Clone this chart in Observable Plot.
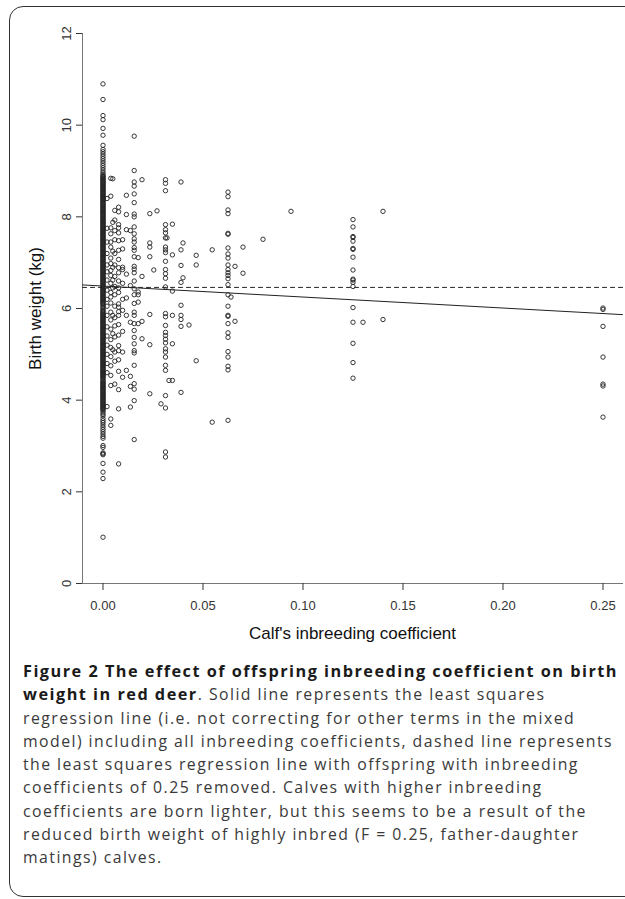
<!DOCTYPE html>
<html><head><meta charset="utf-8">
<script src="https://cdn.jsdelivr.net/npm/d3@7"></script>
<script src="https://cdn.jsdelivr.net/npm/@observablehq/plot@0.6"></script>
<style>
html,body{margin:0;padding:0;background:#fff;overflow:hidden;width:625px;height:899px;}
#frame{position:absolute;left:9px;top:6px;width:720px;height:891px;border:1.6px solid #333;border-radius:14px;box-sizing:border-box;pointer-events:none;}
#chart{position:absolute;left:0;top:0;}
#caption{position:absolute;left:23px;top:660px;font-family:"Open Sans",sans-serif;color:#3a3a3a;line-height:23.3px;font-size:15.8px;}
#caption div{white-space:nowrap;height:23.3px;}
#caption b{color:#1a1a1a;font-weight:700;font-size:16.3px;}
</style></head>
<body>
<div id="chart"></div>
<div id="caption">
<div><span id="line1"><b>Figure 2 The effect of offspring inbreeding coefficient on birth</b></span></div>
<div><span><b>weight in red deer</b>. Solid line represents the least squares</span></div>
<div><span>regression line (i.e. not correcting for other terms in the mixed</span></div>
<div><span id="line4">model) including all inbreeding coefficients, dashed line represents</span></div>
<div><span>the least squares regression line with offspring with inbreeding</span></div>
<div><span>coefficients of 0.25 removed. Calves with higher inbreeding</span></div>
<div><span>coefficients are born lighter, but this seems to be a result of the</span></div>
<div><span>reduced birth weight of highly inbred (F = 0.25, father-daughter</span></div>
<div><span>matings) calves.</span></div>
</div>
<div id="frame"></div>
<script>
// ---- axis settings / labels ----
const xTicks = [0, 0.05, 0.10, 0.15, 0.20, 0.25];
const yTicks = [0, 2, 4, 6, 8, 10, 12];
const xLabel = "Calf's inbreeding coefficient";
const yLabel = "Birth weight (kg)";

// ---- regression lines: [intercept, slope] ----
const fitAll = [6.49, -2.4];      // solid: all inbreeding coefficients
const fitNo025 = [6.46, 0.0];     // dashed: F = 0.25 removed

// ---- inbreeding coefficient levels and birth weights (kg) ----
const levels = [0, 0.002, 0.0039, 0.0049, 0.0059, 0.0078, 0.0098, 0.0117, 0.0137, 0.0156,
  0.0176, 0.0195, 0.0234, 0.0254, 0.027, 0.029, 0.03125, 0.032, 0.033, 0.0347,
  0.039, 0.040, 0.043, 0.0466, 0.0546, 0.0625, 0.064, 0.066, 0.070, 0.080,
  0.094, 0.125, 0.130, 0.140, 0.25];

// F = 0: upper outliers, the solid black band (many calves), lower outliers
const w0000 = [10.90, 10.56, 10.21, 10.12, 9.93, 9.78, 9.56, 9.47, 9.42, 9.37, 9.32, 9.27, 9.22, 9.17, 9.12, 9.07, 9.02, 8.97, 8.93,
  8.90, 8.88, 8.86, 8.84, 8.82, 8.80, 8.78, 8.76, 8.74, 8.72, 8.70, 8.68, 8.66, 8.64, 8.62, 8.60, 8.58, 8.56, 8.54, 8.52, 8.50, 8.48, 8.46, 8.44, 8.42,
  8.40, 8.38, 8.36, 8.34, 8.32, 8.30, 8.28, 8.26, 8.24, 8.22, 8.20, 8.18, 8.16, 8.14, 8.12, 8.10, 8.08, 8.06, 8.04, 8.02, 8.00, 7.98, 7.96, 7.94, 7.92,
  7.90, 7.88, 7.86, 7.84, 7.82, 7.80, 7.78, 7.76, 7.74, 7.72, 7.70, 7.68, 7.66, 7.64, 7.62, 7.60, 7.58, 7.56, 7.54, 7.52, 7.50, 7.48, 7.46, 7.44, 7.42,
  7.40, 7.38, 7.36, 7.34, 7.32, 7.30, 7.28, 7.26, 7.24, 7.22, 7.20, 7.18, 7.16, 7.14, 7.12, 7.10, 7.08, 7.06, 7.04, 7.02, 7.00, 6.98, 6.96, 6.94, 6.92,
  6.90, 6.88, 6.86, 6.84, 6.82, 6.80, 6.78, 6.76, 6.74, 6.72, 6.70, 6.68, 6.66, 6.64, 6.62, 6.60, 6.58, 6.56, 6.54, 6.52, 6.50, 6.48, 6.46, 6.44, 6.42,
  6.40, 6.38, 6.36, 6.34, 6.32, 6.30, 6.28, 6.26, 6.24, 6.22, 6.20, 6.18, 6.16, 6.14, 6.12, 6.10, 6.08, 6.05, 6.02, 5.99, 5.96, 5.94, 5.92,
  5.90, 5.88, 5.86, 5.84, 5.82, 5.80, 5.78, 5.76, 5.74, 5.72, 5.70, 5.68, 5.66, 5.64, 5.62, 5.60, 5.58, 5.56, 5.54, 5.52, 5.50, 5.48, 5.46, 5.44, 5.42,
  5.40, 5.38, 5.36, 5.34, 5.32, 5.30, 5.28, 5.26, 5.24, 5.22, 5.20, 5.18, 5.16, 5.14, 5.12, 5.10, 5.08, 5.06, 5.04, 5.02, 5.00, 4.98, 4.96, 4.94, 4.92,
  4.90, 4.88, 4.86, 4.84, 4.82, 4.80, 4.78, 4.76, 4.74, 4.72, 4.70, 4.68, 4.66, 4.64, 4.62, 4.60, 4.58, 4.56, 4.54, 4.52, 4.50, 4.48, 4.45, 4.42,
  4.40, 4.38, 4.36, 4.34, 4.32, 4.30, 4.28, 4.26, 4.24, 4.22, 4.20, 4.18, 4.16, 4.14, 4.12, 4.10, 4.08, 4.06, 4.04, 4.02, 4.00, 3.98, 3.96, 3.94, 3.92,
  3.90, 3.88, 3.86, 3.84, 3.82, 3.80, 3.78, 3.74, 3.70, 3.66, 3.60, 3.55, 3.51, 3.46, 3.41, 3.36, 3.31, 3.26, 3.21, 3.17,
  3.01, 2.97, 2.85, 2.83, 2.81, 2.62, 2.43, 2.29, 1.01];
const w0020 = [8.40, 7.75, 7.45, 7.20, 6.95, 6.80, 6.62, 6.40, 6.20, 6.05, 5.85, 5.60, 5.40, 5.20, 5.00, 4.80, 4.60, 3.86];
const w0039 = [8.84, 8.45, 7.76, 7.63, 7.45, 7.34, 7.10, 6.98, 6.83, 6.72, 6.55, 6.35, 6.25, 6.12, 5.92, 5.75, 5.55, 5.32,
  5.15, 4.95, 4.75, 4.54, 4.32, 3.59, 3.45];
const w0049 = [8.83, 7.88, 7.25, 6.90, 6.62, 6.45, 5.85, 5.45, 5.10];
const w0059 = [8.14, 7.93, 7.70, 7.50, 7.20, 6.95, 6.70, 6.48, 6.30, 6.05, 5.80, 5.62, 5.38, 5.05, 4.85, 4.35];
const w0078 = [8.21, 8.11, 7.83, 7.76, 7.65, 7.48, 7.27, 7.07, 6.89, 6.78, 6.60, 6.45, 6.35, 6.10, 6.03, 5.93, 5.85, 5.65,
  5.42, 5.19, 5.08, 4.88, 4.63, 4.23, 3.81, 2.61];
const w0098 = [7.50, 7.30, 6.90, 6.85, 6.55, 6.20, 5.96, 5.50, 5.05, 4.50];
const w0117 = [8.47, 8.05, 7.72, 6.75, 6.23, 5.85, 4.65];
const w0137 = [7.70, 6.50, 5.70, 4.52, 4.30, 3.85];
const w0156 = [9.76, 9.01, 8.76, 8.67, 8.50, 8.31, 8.06, 8.00, 7.78, 7.63, 7.52, 7.45, 7.33, 7.27, 7.13, 6.92, 6.86, 6.78,
  6.60, 6.43, 6.30, 6.11, 5.92, 5.85, 5.67, 5.52, 5.37, 5.23, 5.08, 5.03, 4.76, 4.36, 4.24, 3.99, 3.14];
const w0176 = [7.11, 6.36, 6.30, 6.14, 5.67];
const w0195 = [8.81, 6.70, 5.72, 5.34];
const w0234 = [8.07, 7.43, 7.34, 7.13, 5.87, 5.21, 4.14];
const w0254 = [6.84];
const w0270 = [8.13];
const w0290 = [3.92];
const w0313 = [8.81, 8.73, 8.57, 7.83, 7.72, 7.65, 7.54, 7.34, 7.28, 7.22, 7.03, 6.85, 6.76, 6.66, 6.47, 5.89, 5.82, 5.63,
  5.48, 5.41, 5.33, 5.25, 5.12, 5.05, 4.94, 4.76, 4.65, 4.10, 3.83, 2.87, 2.76];
const w0320 = [7.54];
const w0330 = [4.43];
const w0347 = [7.84, 7.17, 6.38, 5.85, 5.23, 4.43];
const w0390 = [8.76, 7.28, 6.94, 6.57, 6.07, 5.85, 5.76, 5.61, 4.17];
const w0400 = [7.43, 6.67];
const w0430 = [5.64];
const w0466 = [7.16, 6.95, 4.86];
const w0546 = [7.28, 3.52];
const w0625 = [8.54, 8.44, 8.15, 8.07, 7.64, 7.62, 7.32, 7.19, 7.10, 6.95, 6.85, 6.78, 6.72, 6.65, 6.52, 6.30, 6.05, 5.85,
  5.83, 5.67, 5.47, 5.37, 5.06, 4.94, 4.74, 4.66, 3.56];
const w0640 = [6.25];
const w0660 = [6.92, 5.72];
const w0700 = [7.34, 6.77];
const w0800 = [7.51];
const w0940 = [8.12];
const w1250 = [7.94, 7.78, 7.57, 7.55, 7.47, 7.31, 7.29, 7.12, 6.84, 6.64, 6.62, 6.57, 6.48, 6.02, 5.70, 5.24, 4.82, 4.48];
const w1300 = [5.70];
const w1400 = [8.12, 5.76];
const w2500 = [6.01, 5.98, 5.61, 4.94, 4.35, 4.31, 3.63];

const weights = [w0000, w0020, w0039, w0049, w0059, w0078, w0098, w0117, w0137, w0156,
  w0176, w0195, w0234, w0254, w0270, w0290, w0313, w0320, w0330, w0347,
  w0390, w0400, w0430, w0466, w0546, w0625, w0640, w0660, w0700, w0800,
  w0940, w1250, w1300, w1400, w2500];

const points = levels.flatMap((f, i) => weights[i].map(w => ({f, w})));

const xDomain = [-0.01275, 0.25975];
const axisF = -0.01025; // where the y axis line sits
const lineOf = ([a, b]) => [axisF, xDomain[1]].map(f => ({f, w: a + b * f}));

const chart = Plot.plot({
  width: 625, height: 645,
  marginLeft: 77, marginRight: 3, marginTop: 33, marginBottom: 62,
  x: {domain: xDomain},
  y: {domain: [0, 12]},
  style: {fontFamily: "'Liberation Sans', Arial, sans-serif", color: "#222", background: "transparent", overflow: "visible"},
  marks: [
    Plot.frame({anchor: "bottom", stroke: "#777"}),
    Plot.frame({anchor: "left", dx: 5, stroke: "#777"}),
    Plot.axisX({ticks: xTicks, tickSize: 7, tickPadding: 10, tickFormat: d3.format(".2f"), fontSize: 13, label: null, color: "#333"}),
    Plot.axisY({ticks: yTicks, tickSize: 6, tickPadding: 6, tickRotate: -90, dx: 5, fontSize: 13, label: null, color: "#333"}),
    Plot.text([xLabel], {frameAnchor: "bottom", dy: 50, dx: 2.5, fontSize: 17, fill: "#111", lineAnchor: "middle", textAnchor: "middle", text: d => d}),
    Plot.text([yLabel], {frameAnchor: "left", rotate: -90, dx: -42, fontSize: 17, fill: "#111", lineAnchor: "middle", textAnchor: "middle", text: d => d}),
    Plot.dot(points, {x: "f", y: "w", r: 2.2, stroke: "#222", strokeWidth: 0.9, fill: "none"}),
    Plot.line(lineOf(fitAll), {x: "f", y: "w", stroke: "#222", strokeWidth: 1}),
    Plot.line(lineOf(fitNo025), {x: "f", y: "w", stroke: "#222", strokeWidth: 1, strokeDasharray: "4,4"})
  ]
});
document.getElementById("chart").append(chart);

// fit caption lines to the reference widths with letter-spacing (regular via line 4, bold via line 1)
const cap = document.getElementById("caption");
const l1 = document.getElementById("line1");
const l4 = document.getElementById("line4");
const w4 = l4.getBoundingClientRect().width;
const lsReg = Math.max(0, (590 - w4) / l4.textContent.length);
cap.style.letterSpacing = lsReg + "px";
const w1 = l1.getBoundingClientRect().width;
const lsBold = Math.max(0, lsReg + (595 - w1) / l1.textContent.length);
document.querySelectorAll("#caption b").forEach(b => b.style.letterSpacing = lsBold + "px");
</script>
</body></html>
